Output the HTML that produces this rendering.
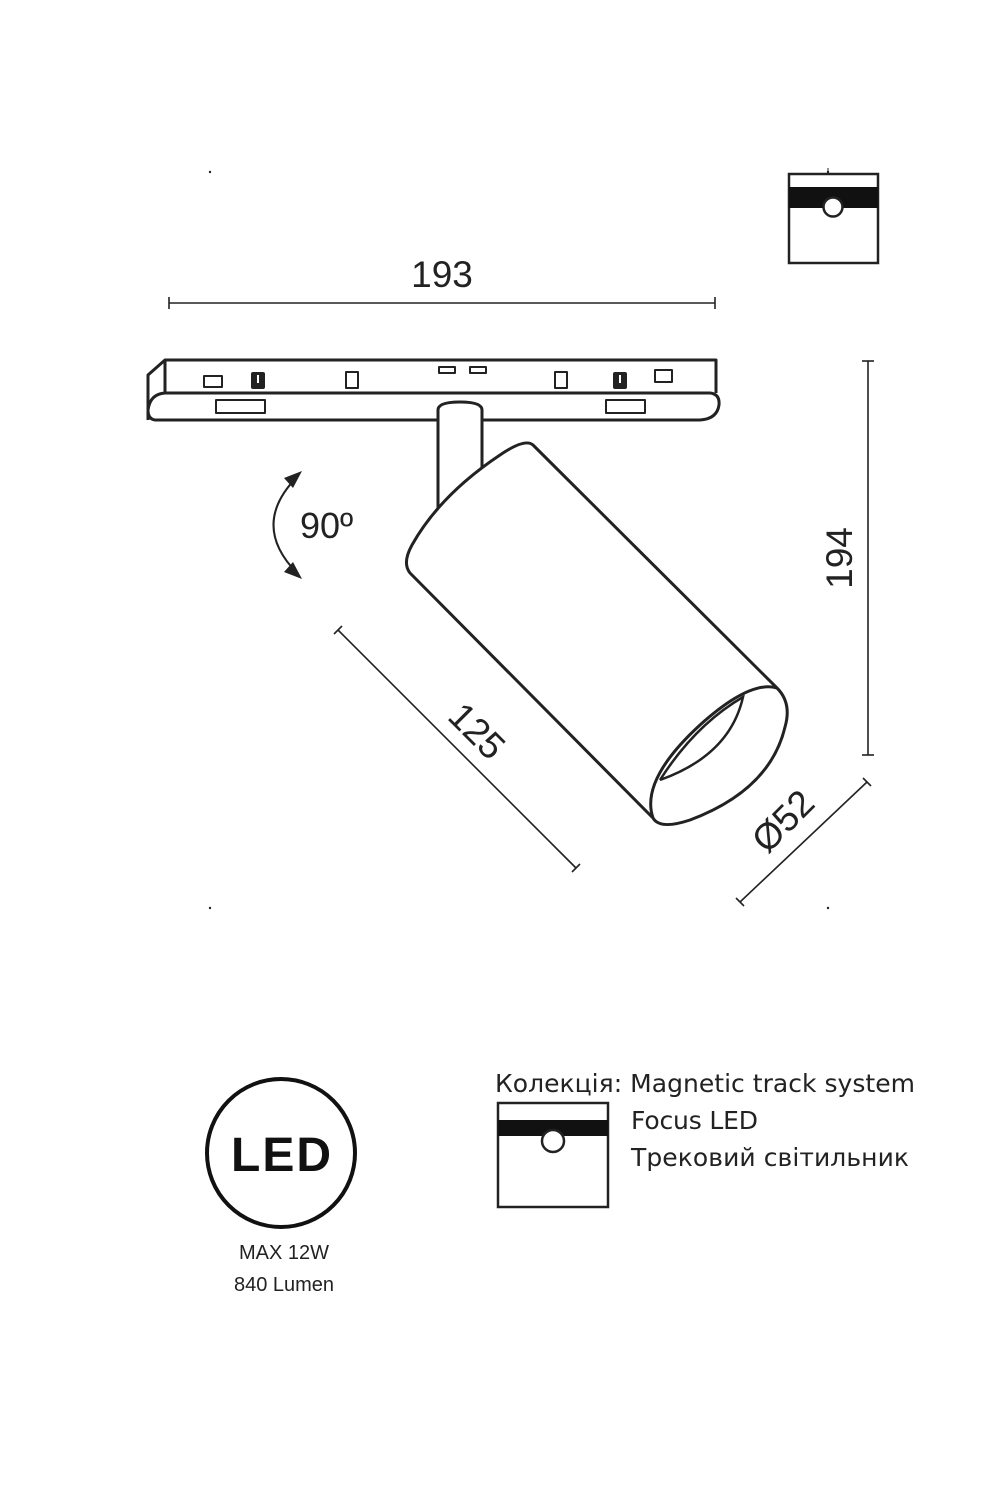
<!DOCTYPE html>
<html><head><meta charset="utf-8"><style>
html,body{margin:0;padding:0;background:#fff;width:1000px;height:1500px;overflow:hidden}
svg{display:block}
</style></head><body>
<svg width="1000" height="1500" viewBox="0 0 1000 1500" xmlns="http://www.w3.org/2000/svg" font-family="Liberation Sans, Noto Sans CJK SC, sans-serif">
<g fill="#222">
<circle cx="210" cy="172" r="1.2"/><circle cx="828" cy="172" r="1.2"/><circle cx="210" cy="908" r="1.2"/><circle cx="828" cy="908" r="1.2"/>
</g>
<rect x="789" y="174" width="89" height="89" fill="none" stroke="#222" stroke-width="2.5"/>
<rect x="789" y="187" width="89" height="21" fill="#111"/>
<circle cx="833" cy="207" r="9.5" fill="#fff" stroke="#222" stroke-width="2.5"/>
<line x1="828" y1="168" x2="828" y2="174" stroke="#222" stroke-width="1"/>
<g stroke="#222" stroke-width="1.6">
<line x1="169" y1="303" x2="715" y2="303"/><line x1="169" y1="297" x2="169" y2="309"/><line x1="715" y1="297" x2="715" y2="309"/>
<line x1="868" y1="361" x2="868" y2="755"/><line x1="862" y1="361" x2="874" y2="361"/><line x1="862" y1="755" x2="874" y2="755"/>
<line x1="338" y1="630" x2="576" y2="868"/><line x1="334" y1="634" x2="342" y2="626"/><line x1="572" y1="872" x2="580" y2="864"/>
<line x1="740" y1="902" x2="867" y2="782"/><line x1="736" y1="898" x2="744" y2="906"/><line x1="863" y1="778" x2="871" y2="786"/>
</g>
<text x="442" y="287" font-size="37" text-anchor="middle" fill="#222">193</text>
<text transform="translate(852,558) rotate(-90)" font-size="37" text-anchor="middle" fill="#222">194</text>
<text transform="translate(468,740) rotate(45)" font-size="37" text-anchor="middle" fill="#222">125</text>
<text transform="translate(792,830) rotate(-45)" font-size="37" text-anchor="middle" fill="#222">Ø52</text>
<g fill="none" stroke="#222" stroke-width="3" stroke-linejoin="round">
<path d="M148,420 L148,375 L165,360 L716,360 L716,393"/>
<line x1="165" y1="360" x2="165" y2="393"/>
<path d="M165,393 L710,393 Q720,394 719,405 Q717,419 700,420 L482,420 M438,420 L155,420 Q148,419 148,410 Q150,394 165,393"/>
<rect x="204" y="376" width="18" height="11" stroke-width="2"/>
<rect x="346" y="372" width="12" height="16" stroke-width="2"/>
<rect x="555" y="372" width="12" height="16" stroke-width="2"/>
<rect x="439" y="367" width="16" height="6" stroke-width="2"/>
<rect x="470" y="367" width="16" height="6" stroke-width="2"/>
<rect x="216" y="400" width="49" height="13" stroke-width="2"/>
<rect x="606" y="400" width="39" height="13" stroke-width="2"/>
<rect x="655" y="370" width="17" height="12" stroke-width="2"/>
</g>
<rect x="251" y="372" width="14" height="17" rx="2" fill="#222"/><rect x="257" y="375" width="2" height="8" fill="#fff"/>
<rect x="613" y="372" width="14" height="17" rx="2" fill="#222"/><rect x="619" y="375" width="2" height="8" fill="#fff"/>
<path d="M438,510 L438,410 Q438,402 460,402 Q482,402 482,410 L482,470" fill="none" stroke="#222" stroke-width="3"/>
<path d="M533,445 L777,688 Q792,703 785,727 Q770,790 690,820 Q660,830 653,818 L410,573 Q402,563 412,545 Q440,495 500,455 Q525,438 533,445 Z" fill="#fff" stroke="#222" stroke-width="3" stroke-linejoin="round"/>
<path d="M653,818 Q640,780 700,725 Q750,680 777,688" fill="none" stroke="#222" stroke-width="3"/>
<path d="M660,780 Q695,725 743,697 Q730,755 660,780" fill="none" stroke="#222" stroke-width="2.5"/>
<path d="M297,477 Q250,525 297,573" fill="none" stroke="#222" stroke-width="2"/>
<polygon points="302,471 284,478 293,488" fill="#222"/>
<polygon points="302,579 284,572 293,562" fill="#222"/>
<text x="300" y="538" font-size="36" fill="#222">90º</text>
<circle cx="281" cy="1153" r="74" fill="none" stroke="#111" stroke-width="4"/>
<text x="282" y="1171" font-size="48" font-weight="bold" text-anchor="middle" fill="#111" letter-spacing="2">LED</text>
<text x="284" y="1259" font-size="20" text-anchor="middle" fill="#222">MAX 12W</text>
<text x="284" y="1291" font-size="20" text-anchor="middle" fill="#222">840 Lumen</text>
<text x="495" y="1092" font-size="25" fill="#222" font-family="DejaVu Sans, Liberation Sans, sans-serif" textLength="420">Колекція: Magnetic track system</text>
<rect x="498" y="1103" width="110" height="104" fill="none" stroke="#222" stroke-width="2.5"/>
<rect x="498" y="1120" width="110" height="16" fill="#111"/>
<circle cx="553" cy="1141" r="11" fill="#fff" stroke="#222" stroke-width="2.5"/>
<text x="631" y="1129" font-size="25" fill="#222" font-family="DejaVu Sans, Liberation Sans, sans-serif" textLength="127">Focus LED</text>
<text x="631" y="1166" font-size="25" fill="#222" font-family="DejaVu Sans, Liberation Sans, sans-serif" textLength="278">Трековий світильник</text>
</svg>
</body></html>
